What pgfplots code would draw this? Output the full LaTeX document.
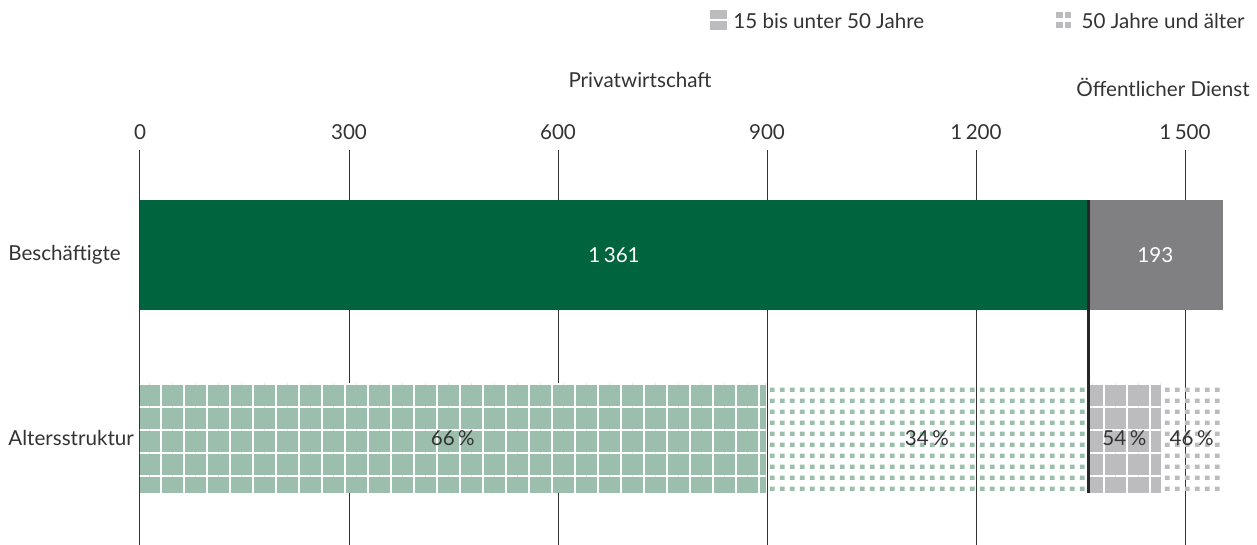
\documentclass[border=0pt]{standalone}
\usepackage{fontspec}
\setmainfont{Lato}
\usepackage{pgfplots}
\pgfplotsset{compat=1.18}
\usetikzlibrary{patterns.meta}
\definecolor{dgreen}{HTML}{00643F}
\definecolor{lgreen}{HTML}{9BBFAC}
\definecolor{dgrey}{HTML}{808083}
\definecolor{lgrey}{HTML}{BCBCBF}
\definecolor{txt}{HTML}{333333}
\tikzdeclarepattern{
  name=sqdots,
  type=uncolored,
  bounding box={(0pt,0pt) and (5.2pt,5.35pt)},
  tile size={(5.2pt,5.35pt)},
  code={\fill (0.5pt,0.6pt) rectangle (3.0pt,2.7pt);}
}
\tikzset{
  gridpat/.style={postaction={pattern={Hatch[angle=0,distance=11.5pt,line width=1.3pt]}, pattern color=white}},
}
\begin{document}
\begin{tikzpicture}[font=\fontsize{10.3}{12}\selectfont]
\path[use as bounding box] (-70pt,0) rectangle (558.5pt,272.5pt);
\begin{axis}[
  at={(0,0)}, anchor=south west,
  x=0.348333pt, y=91.5pt,
  xmin=0, xmax=1554, ymin=-0.585, ymax=1.574,
  xbar stacked, bar width=55pt,
  axis line style={draw=none},
  major tick length=0pt,
  xtick={0,300,600,900,1200,1500},
  xticklabels={0,300,600,900,1\,200,1\,500},
  xticklabel pos=upper,
  xticklabel style={yshift=1.5pt, text=txt},
  ytick={0,1}, yticklabels={Altersstruktur,Beschäftigte},
  yticklabel style={anchor=west, inner xsep=0pt, xshift=-66pt, text=txt},
  xmajorgrids, grid style={txt, line width=0.5pt},
  clip=false,
  legend columns=2,
  legend style={draw=none, fill=none, at={(axis cs:1591.9,2.273)}, anchor=east, inner sep=0pt, text=txt,
    /tikz/every odd column/.append style={column sep=1.5pt},
    /tikz/every even column/.append style={column sep=64pt}},
  legend cell align=left,
]
\addlegendimage{legend image code/.code={
  \fill[lgrey] (0pt,-3.75pt) rectangle (8pt,0.4pt);
  \fill[lgrey] (0pt,1.6pt) rectangle (8pt,5.75pt);}}
\addlegendimage{legend image code/.code={
  \path[draw=none, fill=none] (0pt,0pt) -- (9pt,0pt);
  \fill[lgrey] (0pt,-2.6pt) rectangle (2.85pt,-0.1pt);
  \fill[lgrey] (4.2pt,-2.6pt) rectangle (7pt,-0.1pt);
  \fill[lgrey] (0pt,2.1pt) rectangle (2.85pt,4.6pt);
  \fill[lgrey] (4.2pt,2.1pt) rectangle (7pt,4.6pt);}}
\addplot[fill=dgreen, draw=none] coordinates {(1361,1) (0,0)};
\addplot[fill=lgreen, draw=none, gridpat] coordinates {(0,1) (898,0)};
\addplot[fill=white, draw=none, pattern=sqdots, pattern color=lgreen] coordinates {(0,1) (463,0)};
\addplot[fill=dgrey, draw=none] coordinates {(193,1) (0,0)};
\addplot[fill=lgrey, draw=none, gridpat] coordinates {(0,1) (104,0)};
\addplot[fill=white, draw=none, pattern=sqdots, pattern color=lgrey] coordinates {(0,1) (89,0)};
\legend{15 bis unter 50 Jahre, 50 Jahre und älter}
\coordinate (dA) at (axis cs:1361,1.3005);
\coordinate (dB) at (axis cs:1361,-0.3005);
\coordinate (t1) at (axis cs:680.5,1);
\coordinate (t2) at (axis cs:1457.5,1);
\coordinate (p1) at (axis cs:449,0);
\coordinate (p2) at (axis cs:1129.5,0);
\coordinate (p3) at (axis cs:1413,0);
\coordinate (p4) at (axis cs:1509.5,0);
\coordinate (h1) at (axis cs:717.7,1.9126);
\coordinate (h2) at (axis cs:1593.3,1.8634);
\end{axis}
\draw[black!85, line width=1.5pt] (dA) -- (dB);
\node[text=white] at (t1) {1\,361};
\node[text=white] at (t2) {193};
\node[text=txt] at (p1) {66\,\%};
\node[text=txt] at (p2) {34\,\%};
\node[text=txt] at (p3) {54\,\%};
\node[text=txt] at (p4) {46\,\%};
\node[text=txt, anchor=base] at (h1) {Privatwirtschaft};
\node[text=txt, anchor=base east, inner xsep=0pt] at (h2) {Öffentlicher Dienst};
\end{tikzpicture}
\end{document}
